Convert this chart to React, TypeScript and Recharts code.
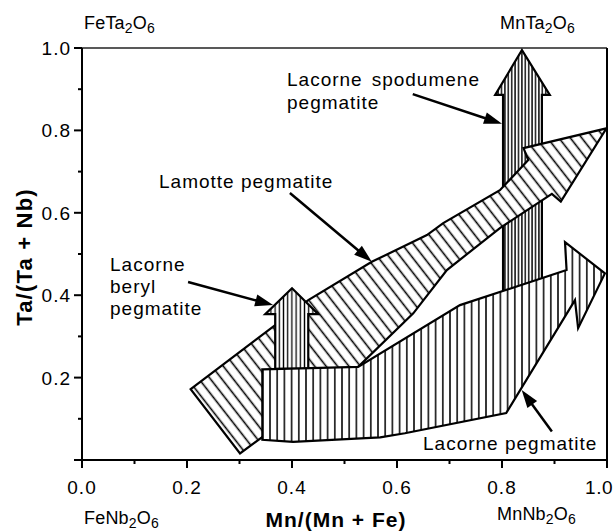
import React from 'react';
import { ScatterChart, Scatter, XAxis, YAxis, ReferenceLine } from 'recharts';

// axis ticks (minor every 0.1, labels on even tenths)
const xTicks = [0, 0.1, 0.2, 0.3, 0.4, 0.5, 0.6, 0.7, 0.8, 0.9, 1.0];
const yTicks = [0, 0.1, 0.2, 0.3, 0.4, 0.5, 0.6, 0.7, 0.8, 0.9, 1.0];
const xTickLabels = ['0.0', '0.2', '0.4', '0.6', '0.8', '1.0'];
const yTickLabels = ['0.2', '0.4', '0.6', '0.8', '1.0'];

// field outlines (x = Mn/(Mn+Fe), y = Ta/(Ta+Nb))
const spodumene = [
  { x: 0.838, y: 0.995 },
  { x: 0.891, y: 0.886 },
  { x: 0.876, y: 0.886 },
  { x: 0.876, y: 0.39 },
  { x: 0.802, y: 0.39 },
  { x: 0.802, y: 0.886 },
  { x: 0.787, y: 0.886 },
];

const lamotte = [
  { x: 0.207, y: 0.172 },
  { x: 0.431, y: 0.388 },
  { x: 0.552, y: 0.481 },
  { x: 0.657, y: 0.546 },
  { x: 0.688, y: 0.575 },
  { x: 0.796, y: 0.655 },
  { x: 0.85, y: 0.728 },
  { x: 0.841, y: 0.757 },
  { x: 0.999, y: 0.805 },
  { x: 0.912, y: 0.627 },
  { x: 0.895, y: 0.646 },
  { x: 0.796, y: 0.563 },
  { x: 0.695, y: 0.461 },
  { x: 0.631, y: 0.356 },
  { x: 0.526, y: 0.226 },
  { x: 0.301, y: 0.016 },
];

const beryl = [
  { x: 0.4, y: 0.417 },
  { x: 0.45, y: 0.354 },
  { x: 0.431, y: 0.354 },
  { x: 0.431, y: 0.221 },
  { x: 0.368, y: 0.221 },
  { x: 0.368, y: 0.354 },
  { x: 0.349, y: 0.354 },
];

const lacorne = [
  { x: 0.3435, y: 0.22 },
  { x: 0.526, y: 0.226 },
  { x: 0.72, y: 0.376 },
  { x: 0.923, y: 0.461 },
  { x: 0.92, y: 0.529 },
  { x: 0.996, y: 0.453 },
  { x: 0.945, y: 0.32 },
  { x: 0.939, y: 0.388 },
  { x: 0.808, y: 0.114 },
  { x: 0.615, y: 0.065 },
  { x: 0.568, y: 0.055 },
  { x: 0.402, y: 0.044 },
  { x: 0.3435, y: 0.049 },
];

// label pointers (start -> head)
const pointerSpodumene = [{ x: 0.63, y: 0.888 }, { x: 0.8, y: 0.816 }];
const pointerLamotte = [{ x: 0.396, y: 0.648 }, { x: 0.552, y: 0.481 }];
const pointerBeryl = [{ x: 0.202, y: 0.432 }, { x: 0.364, y: 0.376 }];
const pointerLacorne = [{ x: 0.895, y: 0.069 }, { x: 0.8375, y: 0.17 }];

const FONT = '"Liberation Sans", Arial, Helvetica, sans-serif';

const noDot = () => <g />;

const polygon = (fillId: string) => (props: any) => {
  const pts = props.points || [];
  const d = pts.map((p: any, i: number) => `${i ? 'L' : 'M'}${p.x},${p.y}`).join(' ') + ' Z';
  return <path d={d} fill={`url(#${fillId})`} stroke="#000" strokeWidth={2.2} strokeLinejoin="miter" />;
};

const pointer = (props: any) => {
  const [a, b] = props.points || [];
  if (!a || !b) return <g />;
  const dx = b.x - a.x;
  const dy = b.y - a.y;
  const len = Math.hypot(dx, dy);
  const ux = dx / len;
  const uy = dy / len;
  const hl = 18;
  const hw = 6;
  const bx = b.x - ux * hl;
  const by = b.y - uy * hl;
  return (
    <g>
      <line x1={a.x} y1={a.y} x2={bx + ux * 2} y2={by + uy * 2} stroke="#000" strokeWidth={2.5} />
      <polygon
        points={`${b.x},${b.y} ${bx - uy * hw},${by + ux * hw} ${bx + uy * hw},${by - ux * hw}`}
        fill="#000"
      />
    </g>
  );
};

function XTick({ x, y, payload }: any) {
  const v = payload.value;
  const label = v.toFixed(1);
  const major = xTickLabels.includes(label);
  // last label sits against the picture edge
  const last = label === '1.0';
  return (
    <g>
      <line x1={x} x2={x} y1={y} y2={y + (major ? 8 : 4)} stroke="#000" strokeWidth={2} />
      {major && (
        <text
          x={last ? x + 6 : x}
          y={y + 34}
          textAnchor={last ? 'end' : 'middle'}
          fontSize={19}
          letterSpacing={last ? 0.5 : 1}
          fontFamily={FONT}
          fill="#000"
        >
          {label}
        </text>
      )}
    </g>
  );
}

function YTick({ x, y, payload }: any) {
  const v = payload.value;
  const label = v.toFixed(1);
  const major = Math.round(v * 10) % 2 === 0;
  return (
    <g>
      <line x1={x - (major ? 8 : 4)} x2={x} y1={y} y2={y} stroke="#000" strokeWidth={2} />
      {yTickLabels.includes(label) && (
        <text x={x - 11} y={y + 7} textAnchor="end" fontSize={19} letterSpacing={1} fontFamily={FONT} fill="#000">
          {label}
        </text>
      )}
    </g>
  );
}

function Formula({ x, y, a }: { x: number; y: number; a: string }) {
  return (
    <text x={x} y={y} fontSize={18} fontFamily={FONT} fill="#000" letterSpacing={0.2}>
      {a}
      <tspan fontSize={14} dy={4}>2</tspan>
      <tspan fontSize={18} dy={-4}>O</tspan>
      <tspan fontSize={14} dy={4}>6</tspan>
    </text>
  );
}

const textStyle = { fontSize: 19, fontFamily: FONT, fill: '#000', letterSpacing: 1 };

export default function App() {
  return (
    <div style={{ position: 'absolute', left: 0, top: 0, width: 614, height: 532, background: '#fff' }}>
      <ScatterChart width={614} height={532} margin={{ top: 48, right: 7, bottom: 0, left: 0 }}>
        <defs>
          <pattern id="hLamotte" patternUnits="userSpaceOnUse" width={9} height={9} patternTransform="rotate(-38)">
            <rect width={9} height={9} fill="#fff" />
            <line x1={4.5} y1={0} x2={4.5} y2={9} stroke="#000" strokeWidth={1.6} />
          </pattern>
          <pattern id="hLacorne" patternUnits="userSpaceOnUse" width={7.2} height={10}>
            <rect width={7.2} height={10} fill="#fff" />
            <line x1={3.6} y1={0} x2={3.6} y2={10} stroke="#000" strokeWidth={1.5} />
          </pattern>
          <pattern id="hBeryl" patternUnits="userSpaceOnUse" width={4.2} height={10}>
            <rect width={4.2} height={10} fill="#fff" />
            <line x1={2.1} y1={0} x2={2.1} y2={10} stroke="#000" strokeWidth={1.3} />
          </pattern>
          <pattern id="hSpodumene" patternUnits="userSpaceOnUse" width={3.4} height={10}>
            <rect width={3.4} height={10} fill="#fff" />
            <line x1={1.7} y1={0} x2={1.7} y2={10} stroke="#000" strokeWidth={1.4} />
          </pattern>
        </defs>

        <XAxis
          dataKey="x"
          type="number"
          domain={[0, 1]}
          ticks={xTicks}
          interval={0}
          height={72}
          tickSize={0}
          tickMargin={0}
          tick={<XTick />}
          axisLine={{ stroke: '#000', strokeWidth: 2 }}
          tickLine={false}
          allowDataOverflow
        />
        <YAxis
          dataKey="y"
          type="number"
          domain={[0, 1]}
          ticks={yTicks}
          interval={0}
          width={82}
          tickSize={0}
          tickMargin={0}
          tick={<YTick />}
          axisLine={{ stroke: '#000', strokeWidth: 2 }}
          tickLine={false}
          allowDataOverflow
        />
        <ReferenceLine y={1} stroke="#222" strokeWidth={1.6} />
        <ReferenceLine x={1} stroke="#000" strokeWidth={2} />

        <Scatter data={spodumene} line={polygon('hSpodumene')} shape={noDot} isAnimationActive={false} />
        <Scatter data={lamotte} line={polygon('hLamotte')} shape={noDot} isAnimationActive={false} />
        <Scatter data={beryl} line={polygon('hBeryl')} shape={noDot} isAnimationActive={false} />
        <Scatter data={lacorne} line={polygon('hLacorne')} shape={noDot} isAnimationActive={false} />

        <Scatter data={pointerSpodumene} line={pointer} shape={noDot} isAnimationActive={false} />
        <Scatter data={pointerLamotte} line={pointer} shape={noDot} isAnimationActive={false} />
        <Scatter data={pointerBeryl} line={pointer} shape={noDot} isAnimationActive={false} />
        <Scatter data={pointerLacorne} line={pointer} shape={noDot} isAnimationActive={false} />

        <text x={287} y={86} {...textStyle}>
          Lacorne<tspan dx={9}>spodumene</tspan>
        </text>
        <text x={287} y={109} {...textStyle}>pegmatite</text>
        <text x={159} y={188} {...textStyle}>Lamotte pegmatite</text>
        <text x={110} y={271} {...textStyle}>Lacorne</text>
        <text x={110} y={293} {...textStyle}>beryl</text>
        <text x={110} y={315} {...textStyle}>pegmatite</text>
        <text x={423} y={450} {...textStyle}>Lacorne pegmatite</text>

        <Formula x={84} y={29} a="FeTa" />
        <Formula x={500} y={29} a="MnTa" />
        <Formula x={84} y={524} a="FeNb" />
        <Formula x={497} y={520} a="MnNb" />

        <text x={336} y={527} textAnchor="middle" fontSize={21} fontWeight="bold" letterSpacing={1} fontFamily={FONT} fill="#000">
          Mn/(Mn + Fe)
        </text>
        <text
          x={32}
          y={257}
          textAnchor="middle"
          transform="rotate(-90 32 257)"
          fontSize={22}
          fontWeight="bold"
          letterSpacing={1.2}
          fontFamily={FONT}
          fill="#000"
        >
          Ta/(Ta + Nb)
        </text>
      </ScatterChart>
    </div>
  );
}
